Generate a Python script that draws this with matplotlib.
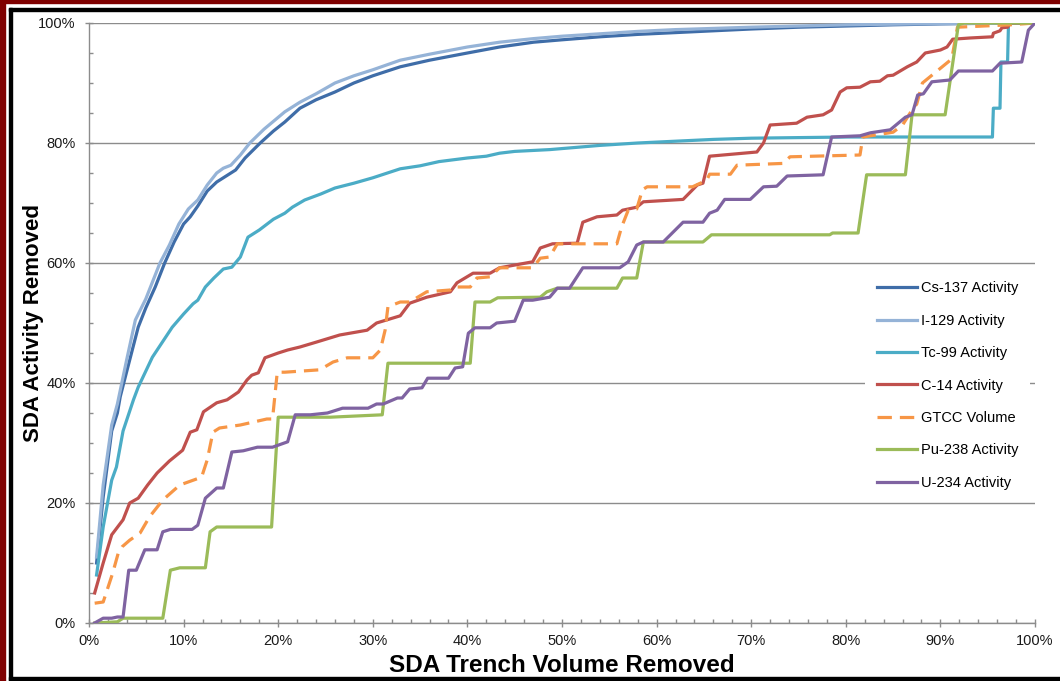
import matplotlib
matplotlib.use('Agg')
import matplotlib.pyplot as plt
from matplotlib.patches import Rectangle
from matplotlib.ticker import MultipleLocator, PercentFormatter

# Данные (в процентах)
cs137_x = [0.8, 1.5, 2.4, 3.0, 3.3, 4.0, 5.2, 6.0, 7.0, 8.0, 9.0, 10.0, 10.7, 11.5, 12.5, 13.5,
           14.7, 15.5, 16.5, 18.1, 19.5, 20.7, 22.3, 24.0, 26.0, 28.0, 30.0, 32.9, 36.0, 40.0,
           43.4, 47.0, 50.0, 54.0, 58.0, 62.0, 66.0, 70.0, 75.0, 80.0, 85.0, 90.0, 95.0, 100.0]
cs137_y = [10, 21, 32, 35, 37.7, 42, 49.3, 52.5, 56, 60, 63.5, 66.5, 67.7, 69.5, 72, 73.5,
           74.7, 75.5, 77.5, 80, 82, 83.5, 85.8, 87.2, 88.5, 90, 91.2, 92.7, 93.8, 95,
           96, 96.8, 97.2, 97.7, 98.1, 98.4, 98.7, 99, 99.3, 99.5, 99.7, 99.85, 99.95, 100]

i129_x = [0.8, 1.5, 2.4, 3.0, 4.0, 4.9, 6.0, 7.0, 7.5, 8.5, 9.5, 10.5, 11.5, 12.5, 13.5, 14.2,
          15.0, 16.0, 17.0, 18.5, 20.7, 22.3, 24.0, 26.0, 28.0, 30.0, 32.9, 36.0, 40.0, 43.4,
          47.0, 50.0, 54.0, 58.0, 62.0, 66.0, 70.0, 75.0, 80.0, 85.0, 90.0, 95.0, 100.0]
i129_y = [11, 23, 33, 36.5, 44, 50.5, 54, 58, 60, 63, 66.5, 69, 70.5, 73, 75, 75.8,
          76.3, 78, 80, 82.3, 85.2, 86.8, 88.2, 90, 91.2, 92.2, 93.8, 94.8, 96, 96.8,
          97.4, 97.8, 98.2, 98.6, 98.9, 99.1, 99.3, 99.5, 99.7, 99.8, 99.9, 99.97, 100]

tc99_x = [0.8, 1.5, 2.4, 2.9, 3.6, 4.7, 5.2, 6.7, 8.8, 10.0, 11.0, 11.5, 12.3, 13.2, 14.2, 15.1,
          16.0, 16.8, 18.0, 19.5, 20.7, 21.5, 22.8, 24.5, 26.0, 28.0, 30.0, 32.9, 35.0, 37.0,
          40.0, 42.0, 43.4, 45.0, 48.7, 54.0, 58.0, 62.0, 66.0, 70.0, 75.0, 80.4, 85.0, 95.5,
          95.6, 96.3, 96.4, 97.1, 97.2, 100.0]
tc99_y = [8, 16, 23.8, 26, 32, 37.2, 39.3, 44.3, 49.3, 51.5, 53.2, 53.8, 56, 57.5, 59, 59.3,
          61, 64.3, 65.5, 67.3, 68.3, 69.3, 70.5, 71.5, 72.5, 73.3, 74.2, 75.7, 76.2, 76.9,
          77.5, 77.8, 78.3, 78.6, 78.9, 79.6, 80, 80.3, 80.6, 80.8, 80.9, 81, 81, 81,
          85.8, 85.8, 93.5, 93.5, 100, 100]

c14_x = [0.6, 1.5, 2.4, 3.6, 4.3, 5.2, 6.2, 7.2, 8.5, 9.9, 10.7, 11.4, 12.1, 13.5, 14.6, 15.8,
         16.7, 17.2, 17.9, 18.6, 20.0, 21.0, 22.3, 24.0, 26.5, 29.4, 30.4, 32.9, 33.9, 35.7,
         38.2, 38.9, 40.6, 42.4, 43.4, 46.9, 47.7, 49.0, 51.6, 52.2, 53.7, 55.8, 56.4, 57.9,
         58.6, 62.8, 64.3, 64.9, 65.6, 70.6, 71.3, 72.0, 74.8, 75.9, 77.6, 78.5, 79.4, 80.1,
         81.5, 82.6, 83.6, 84.4, 85.0, 86.5, 87.5, 88.4, 90.0, 90.7, 91.3, 93.1, 95.5, 95.6,
         96.3, 96.5, 97.1, 97.4, 100.0]
c14_y = [5, 10, 14.7, 17.2, 20, 20.8, 23, 25, 27, 28.8, 31.8, 32.2, 35.2, 36.7, 37.2, 38.5,
         40.5, 41.3, 41.7, 44.2, 45, 45.5, 46, 46.8, 48, 48.8, 50, 51.2, 53.3, 54.3,
         55.2, 56.7, 58.3, 58.3, 59.2, 60.2, 62.5, 63.2, 63.3, 66.8, 67.7, 68, 68.8, 69.3,
         70.2, 70.6, 73, 73.3, 77.8, 78.5, 80, 83, 83.3, 84.3, 84.7, 85.5, 88.5, 89.2,
         89.3, 90.2, 90.3, 91.2, 91.3, 92.7, 93.5, 95, 95.5, 96, 97.3, 97.5, 97.7, 98.3,
         98.7, 99.2, 99.3, 100, 100]

gtcc_x = [0.6, 1.5, 2.5, 3.1, 3.5, 4.3, 5.4, 6.4, 7.8, 9.6, 11.9, 12.5, 13.1, 13.8, 16.0, 18.8,
          19.4, 19.9, 20.7, 24.4, 25.8, 27.3, 30.0, 30.8, 31.3, 31.6, 32.9, 33.9, 35.7, 38.2,
          38.5, 40.3, 41.0, 42.4, 43.4, 46.9, 47.7, 48.7, 49.5, 55.8, 56.3, 57.0, 57.9, 58.5,
          59.0, 63.8, 65.3, 65.6, 67.8, 68.5, 73.4, 74.1, 81.5, 81.8, 85.0, 86.0, 86.8, 87.5,
          88.1, 91.2, 91.8, 97.4, 100.0]
gtcc_y = [3.3, 3.5, 8.3, 11.7, 12.7, 13.8, 15, 17.7, 20.5, 23, 24.3, 27.2, 31.8, 32.5, 33, 34,
          34, 41.8, 41.8, 42.2, 43.5, 44.2, 44.2, 45.5, 48.8, 52.7, 53.5, 53.5, 55.2, 55.5,
          56, 56, 57.5, 57.7, 59.2, 59.2, 60.8, 61, 63.2, 63.2, 66, 68.8, 69, 72.2,
          72.7, 72.7, 73.8, 74.8, 74.8, 76.3, 76.6, 77.7, 78, 81, 81.8, 83, 85, 86.5,
          90, 94, 99.3, 99.7, 100]

pu238_x = [0.6, 3.0, 3.6, 7.8, 8.6, 9.6, 12.3, 12.8, 13.5, 19.3, 20.0, 25.5, 31.0, 31.6, 35.7,
           40.3, 40.8, 42.4, 43.2, 47.7, 48.4, 49.5, 55.8, 56.4, 57.9, 58.6, 64.9, 65.8, 78.3,
           78.6, 81.3, 82.2, 86.3, 87.0, 90.5, 91.9, 92.5, 100.0]
pu238_y = [0, 0.2, 0.8, 0.8, 8.8, 9.2, 9.2, 15.2, 16, 16, 34.3, 34.3, 34.7, 43.3, 43.3,
           43.3, 53.5, 53.5, 54.2, 54.3, 55.2, 55.8, 55.8, 57.5, 57.5, 63.5, 63.5, 64.7, 64.7,
           65, 65, 74.7, 74.7, 84.7, 84.7, 99.7, 100, 100]

u234_x = [0.6, 1.5, 2.4, 3.0, 3.6, 4.2, 5.0, 5.9, 7.2, 7.8, 8.6, 10.9, 11.5, 12.3, 13.5, 14.2,
          15.1, 16.3, 17.8, 19.4, 21.0, 21.8, 23.4, 25.2, 26.8, 29.5, 30.4, 31.1, 32.6, 33.1,
          33.9, 35.2, 35.8, 38.0, 38.7, 39.5, 40.1, 40.8, 42.4, 43.1, 45.0, 45.9, 46.9, 48.7,
          49.5, 50.8, 52.2, 56.1, 57.0, 57.9, 58.6, 60.7, 62.8, 64.9, 65.6, 66.4, 67.2, 69.9,
          71.3, 72.7, 73.8, 77.6, 78.5, 81.5, 82.6, 84.7, 86.3, 87.0, 87.6, 88.2, 89.1, 91.0,
          91.9, 95.5, 96.3, 98.6, 99.3, 100.0]
u234_y = [0, 0.8, 0.8, 1, 1, 8.8, 8.8, 12.2, 12.2, 15.2, 15.6, 15.6, 16.3, 20.8, 22.5, 22.5,
          28.5, 28.7, 29.3, 29.3, 30.2, 34.7, 34.7, 35, 35.8, 35.8, 36.5, 36.5, 37.5, 37.5,
          39, 39.2, 40.8, 40.8, 42.5, 42.7, 48.3, 49.2, 49.2, 50, 50.3, 53.8, 53.8, 54.3,
          55.8, 55.8, 59.2, 59.2, 60.2, 63, 63.5, 63.5, 66.8, 66.8, 68.3, 68.8, 70.6, 70.6,
          72.7, 72.8, 74.5, 74.7, 81, 81.2, 81.7, 82.2, 84.3, 84.7, 88, 88.2, 90.2, 90.5,
          92, 92, 93.3, 93.5, 98.8, 100]


def main():
    plt.rcParams['font.family'] = ['Liberation Sans', 'DejaVu Sans']

    fig = plt.figure(figsize=(10.6, 6.81), dpi=100)
    W, H = 1060, 681

    # Рамка вокруг картинки: тёмно-красная полоса и чёрная линия
    red = '#7F0000'
    fig.patches.append(Rectangle((0, 0), 5 / W, 1, transform=fig.transFigure, color=red, zorder=0))
    fig.patches.append(Rectangle((0, 1 - 3 / H), 1, 3 / H, transform=fig.transFigure, color=red, zorder=0))
    fig.patches.append(Rectangle((9 / W, 0), 3 / W, 1 - 8 / H, transform=fig.transFigure, color='black', zorder=0))
    fig.patches.append(Rectangle((9 / W, 1 - 11 / H), 1, 3 / H, transform=fig.transFigure, color='black', zorder=0))
    fig.patches.append(Rectangle((9 / W, 1 / H), 1, 3 / H, transform=fig.transFigure, color='black', zorder=0))

    ax = fig.add_axes([89 / W, 1 - 623 / H, (1035 - 89) / W, (623 - 23) / H])

    series = [
        (cs137_x, cs137_y, 'Cs-137 Activity', '#3F6DA8', '-'),
        (i129_x, i129_y, 'I-129 Activity', '#95B3D7', '-'),
        (tc99_x, tc99_y, 'Tc-99 Activity', '#4BACC6', '-'),
        (c14_x, c14_y, 'C-14 Activity', '#C0504D', '-'),
        (gtcc_x, gtcc_y, 'GTCC Volume', '#F79646', '--'),
        (pu238_x, pu238_y, 'Pu-238 Activity', '#9BBB59', '-'),
        (u234_x, u234_y, 'U-234 Activity', '#7F63A1', '-'),
    ]
    for x, y, name, color, ls in series:
        line, = ax.plot(x, y, color=color, linewidth=2.3, linestyle=ls, label=name, zorder=3)
        if ls == '--':
            line.set_dashes((4.5, 2.5))

    ax.set_xlim(0, 100)
    ax.set_ylim(0, 100)
    ax.xaxis.set_major_locator(MultipleLocator(10))
    ax.xaxis.set_minor_locator(MultipleLocator(2))
    ax.yaxis.set_major_locator(MultipleLocator(20))
    ax.yaxis.set_minor_locator(MultipleLocator(5))
    ax.xaxis.set_major_formatter(PercentFormatter(decimals=0))
    ax.yaxis.set_major_formatter(PercentFormatter(decimals=0))

    ax.grid(True, axis='y', which='major', color='#8C8C8C', linewidth=1.0, zorder=1)
    for s in ['top', 'right']:
        ax.spines[s].set_visible(False)
    for s in ['left', 'bottom']:
        ax.spines[s].set_color('#8C8C8C')
        ax.spines[s].set_linewidth(1.0)

    ax.tick_params(which='major', direction='inout', length=6, width=1, color='#8C8C8C',
                   labelsize=10.5, labelcolor='#1A1A1A', pad=5)
    ax.tick_params(axis='y', which='major', pad=6.5)
    ax.tick_params(which='minor', direction='in', length=3, width=1, color='#8C8C8C')

    ax.set_xlabel('SDA Trench Volume Removed', fontsize=17.5, fontweight='bold', labelpad=4)
    ax.set_ylabel('SDA Activity Removed', fontsize=16, fontweight='bold', labelpad=-4)

    # Легенда без рамки, белый фон перекрывает линию сетки
    leg = ax.legend(loc='upper left', bbox_to_anchor=(865 / W, 1 - 269.5 / H),
                    bbox_transform=fig.transFigure, frameon=True, fancybox=False,
                    edgecolor='none', facecolor='white', framealpha=1, fontsize=10.5,
                    handlelength=2.74, handletextpad=0.28, labelspacing=1.265, borderpad=0.8,
                    borderaxespad=0)
    leg.set_zorder(5)

    plt.savefig('out.png', dpi=100)
    plt.close()


if __name__ == "__main__":
    main()
